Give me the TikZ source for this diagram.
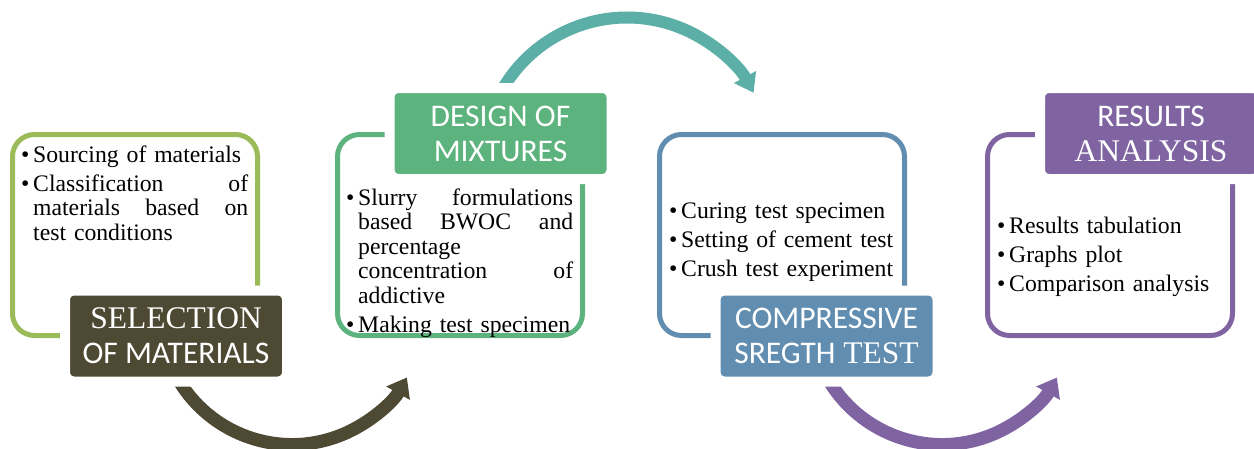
\documentclass[tikz,border=0pt]{standalone}
\usepackage{fontspec}
\setmainfont{Liberation Serif}
\newfontfamily\carl{Carlito}
\usetikzlibrary{arrows.meta}
\definecolor{olive}{HTML}{4D4932}
\definecolor{lgreen}{HTML}{9BBB59}
\definecolor{mgreen}{HTML}{5DB37E}
\definecolor{tealc}{HTML}{5BAFA6}
\definecolor{steel}{HTML}{608DB0}
\definecolor{purp}{HTML}{8064A2}
\newcommand{\bl}{\makebox[12pt][l]{\textbullet}}
\newcommand{\ind}{\hspace*{12pt}}
\newcommand{\jl}[2]{\hbox to 215pt{#1\hfill #2}}
\newcommand{\jlt}[3]{\hbox to 215pt{#1\hfill #2\hfill #3}}
\begin{document}
\begin{tikzpicture}[x=1pt,y=1pt,
  frame/.style={draw, line width=5pt, rounded corners=22pt, minimum width=245pt, minimum height=201pt, inner sep=0pt},
  stagebox/.style={draw=white, line width=10pt, rounded corners=9pt, minimum width=222pt, minimum height=91pt, inner sep=0pt, text=white, align=center, font=\fontsize{31.5}{35}\selectfont},
  bullets/.style={anchor=base west, inner sep=0pt, text width=232pt, align=left, font=\fontsize{23.7}{24.5}\selectfont},
  flow/.style={line width=13pt, -{Triangle[width=26pt,length=18pt]}}
]
\useasboundingbox[fill=white] (0,0) rectangle (1254,-448);
% outlined boxes
\node[frame, draw=lgreen] (box1) at (135,-235) {};
\node[frame, draw=mgreen] (box2) at (460,-235) {};
\node[frame, draw=steel] (box3) at (782,-235) {};
\node[frame, draw=purp] (box4) at (1110,-235) {};
% curved connectors
\coordinate (a1s) at (172.4,-368.3);
\coordinate (a2s) at (497.6,-98.4);
\coordinate (a3s) at (822.4,-368.3);
\draw[flow, draw=olive] (a1s) arc[start angle=205, end angle=330.5, radius=132];
\draw[flow, line width=12pt, draw=tealc, -{Triangle[width=24pt,length=18pt]}] (a2s) arc[start angle=154, end angle=28.5, radius=144];
\draw[flow, draw=purp] (a3s) arc[start angle=205, end angle=330.5, radius=132];
% stage labels
\node[stagebox, fill=olive] (lab1) at (176,-336) {SELECTION\\{\carl OF MATERIALS}};
\node[stagebox, fill=mgreen] (lab2) at (500.5,-133.5) {{\carl DESIGN OF}\\{\carl MIXTURES}};
\node[stagebox, fill=steel] (lab3) at (826.5,-336) {{\carl COMPRESSIVE}\\{\carl SREGTH} TEST};
\node[stagebox, fill=purp] (lab4) at (1151,-133.5) {{\carl RESULTS}\\ANALYSIS};
% bullet texts
\node[bullets] (t1) at (21,-162) {\bl Sourcing of materials\\[4.5pt]
\bl\jl{Classification}{of}\\
\ind\jlt{materials}{based}{on}\\
\ind test conditions};
\node[bullets] (t2) at (346,-205) {\bl\jl{Slurry}{formulations}\\
\ind\hbox to 215pt{based\hfill BWOC\hfill and}\\
\ind percentage\\
\ind\jl{concentration}{of}\\
\ind addictive\\[4.5pt]
\bl Making test specimen};
\node[bullets] (t3) at (669,-218) {\bl Curing test specimen\\[4.5pt]
\bl Setting of cement test\\[4.5pt]
\bl Crush test experiment};
\node[bullets] (t4) at (997,-233) {\bl Results tabulation\\[4.5pt]
\bl Graphs plot\\[4.5pt]
\bl Comparison analysis};
\end{tikzpicture}
\end{document}
